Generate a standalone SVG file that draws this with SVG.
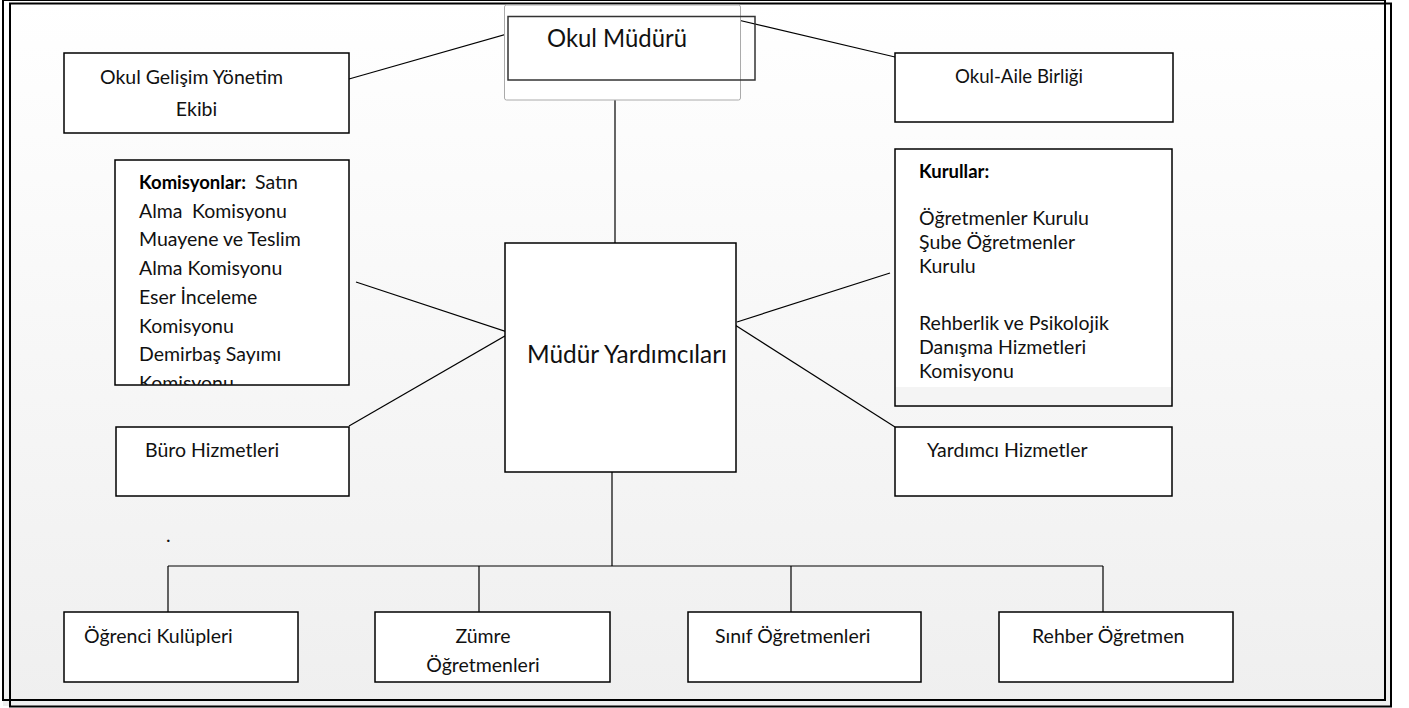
<svg xmlns="http://www.w3.org/2000/svg" width="1409" height="708" viewBox="0 0 1409 708">
<defs>
<linearGradient id="bg" x1="0" y1="0" x2="0" y2="1">
<stop offset="0" stop-color="#ffffff"/>
<stop offset="1" stop-color="#efefef"/>
</linearGradient>
<clipPath id="clipKom"><rect x="115" y="160" width="234" height="225"/></clipPath>
</defs>
<style>
.box{fill:#fff;stroke:#000;stroke-width:1.5}
.ln{stroke:#000;stroke-width:1.2;fill:none}
.t{font-family:Lato,"Open Sans","Liberation Sans",sans-serif;font-size:19.5px;fill:#111}
.tb{font-family:Lato,"Open Sans","Liberation Sans",sans-serif;font-size:18.5px;font-weight:bold;fill:#000}
.tm{font-family:Lato,"Open Sans","Liberation Sans",sans-serif;font-size:25px;fill:#111}
.frame{fill:none;stroke:#000;stroke-width:2}
</style>
<rect x="3" y="0" width="1388" height="706" fill="url(#bg)"/>
<rect class="frame" x="10" y="3.5" width="1381" height="703"/>
<rect class="frame" x="3" y="0" width="1382" height="700"/>

<g id="connectors">
<line class="ln" x1="349" y1="79" x2="528" y2="28"/>
<line class="ln" x1="738" y1="20" x2="895" y2="57"/>
<line class="ln" x1="615" y1="100" x2="615" y2="243"/>
<line class="ln" x1="356" y1="282" x2="510" y2="333"/>
<line class="ln" x1="349" y1="426" x2="510" y2="333"/>
<line class="ln" x1="737" y1="322" x2="890" y2="273"/>
<line class="ln" x1="735" y1="325" x2="895" y2="427"/>
<line class="ln" x1="612" y1="472" x2="612" y2="566"/>
<line class="ln" x1="168" y1="566" x2="1103" y2="566"/>
<line class="ln" x1="168" y1="566" x2="168" y2="612"/>
<line class="ln" x1="479" y1="566" x2="479" y2="612"/>
<line class="ln" x1="791" y1="566" x2="791" y2="612"/>
<line class="ln" x1="1103" y1="566" x2="1103" y2="612"/>
</g>

<g id="okul-muduru">
<rect x="504.5" y="5" width="236" height="95" rx="2" fill="#fff" stroke="#aaa" stroke-width="1"/>
<rect x="508" y="16.5" width="247" height="63.5" fill="none" stroke="#333" stroke-width="1.5"/>
<text class="tm" x="547" y="47" textLength="140" lengthAdjust="spacingAndGlyphs">Okul Müdürü</text>
</g>

<g id="okul-gelisim">
<rect class="box" x="64" y="53" width="285" height="80"/>
<text class="t" x="100" y="84" textLength="183" lengthAdjust="spacingAndGlyphs">Okul Gelişim Yönetim</text>
<text class="t" x="196.5" y="116" text-anchor="middle">Ekibi</text>
</g>

<g id="okul-aile">
<rect class="box" x="895" y="53" width="278" height="69"/>
<text class="t" x="955" y="83" textLength="128" lengthAdjust="spacingAndGlyphs">Okul-Aile Birliği</text>
</g>

<g id="komisyonlar">
<rect class="box" x="115" y="160" width="234" height="225"/>
<g clip-path="url(#clipKom)">
<text class="t" x="139" y="189"><tspan class="tb">Komisyonlar:</tspan><tspan x="255">Satın</tspan></text>
<text class="t" x="139" y="217.7">Alma<tspan x="192">Komisyonu</tspan></text>
<text class="t" x="139" y="246.4">Muayene ve Teslim</text>
<text class="t" x="139" y="275.1">Alma Komisyonu</text>
<text class="t" x="139" y="303.8">Eser İnceleme</text>
<text class="t" x="139" y="332.5">Komisyonu</text>
<text class="t" x="139" y="361.2">Demirbaş Sayımı</text>
<text class="t" x="139" y="390">Komisyonu</text>
</g>
</g>

<g id="kurullar">
<rect class="box" x="895" y="149" width="277" height="257"/>
<rect x="896" y="387" width="275" height="18" fill="#f4f4f4"/>
<text class="tb" x="919" y="178">Kurullar:</text>
<text class="t" x="919" y="225">Öğretmenler Kurulu</text>
<text class="t" x="919" y="249">Şube Öğretmenler</text>
<text class="t" x="919" y="273">Kurulu</text>
<text class="t" x="919" y="330">Rehberlik ve Psikolojik</text>
<text class="t" x="919" y="354">Danışma Hizmetleri</text>
<text class="t" x="919" y="378">Komisyonu</text>
</g>

<g id="mudur-yardimcilari">
<rect class="box" x="505" y="243" width="231" height="229"/>
<text class="tm" x="527" y="363" textLength="200" lengthAdjust="spacingAndGlyphs">Müdür Yardımcıları</text>
</g>

<g id="buro">
<rect class="box" x="116" y="427" width="233" height="69"/>
<text class="t" x="145" y="457">Büro Hizmetleri</text>
</g>

<g id="yardimci">
<rect class="box" x="895" y="427" width="277" height="69"/>
<text class="t" x="927" y="457">Yardımcı Hizmetler</text>
</g>

<text class="t" x="166" y="542">.</text>

<g id="ogrenci-kulupleri">
<rect class="box" x="64" y="612" width="234" height="70"/>
<text class="t" x="84" y="643">Öğrenci Kulüpleri</text>
</g>
<g id="zumre">
<rect class="box" x="375" y="612" width="235" height="70"/>
<text class="t" x="483" y="643" text-anchor="middle">Zümre</text>
<text class="t" x="483" y="672" text-anchor="middle">Öğretmenleri</text>
</g>
<g id="sinif">
<rect class="box" x="688" y="612" width="233" height="70"/>
<text class="t" x="715" y="643">Sınıf Öğretmenleri</text>
</g>
<g id="rehber">
<rect class="box" x="999" y="612" width="234" height="70"/>
<text class="t" x="1032" y="643">Rehber Öğretmen</text>
</g>
</svg>
